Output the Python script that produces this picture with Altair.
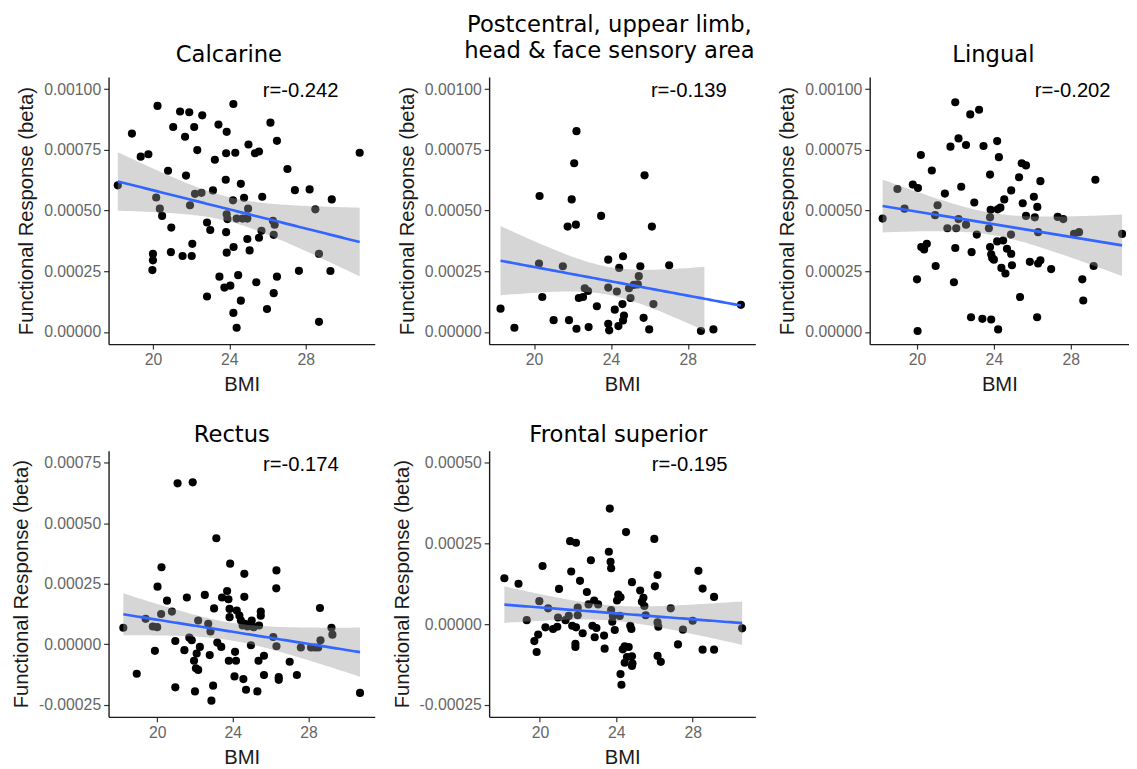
import altair as alt
import numpy as np
import pandas as pd

# ---------------- data ----------------
calcarine_bmi = [18.16, 18.9, 19.36, 19.76, 20.24, 20.0, 20.0, 19.97, 20.17, 20.36, 20.48, 20.79, 20.96, 20.94, 21.06,
                 21.42, 21.9, 21.68, 21.73, 21.94, 21.55, 22.03, 22.06, 22.16, 22.32, 22.2, 22.54, 22.58, 22.83, 23.0,
                 22.83, 23.14, 23.24, 23.43, 23.48, 23.74, 23.86, 23.83, 23.81, 23.86, 23.9, 23.83, 23.86, 24.05, 24.21,
                 24.22, 24.21, 24.19, 24.31, 24.38, 24.38, 24.46, 24.6, 24.6, 24.77, 24.69, 24.94, 24.98, 25.0, 24.94,
                 25.06, 25.34, 25.55, 25.41, 25.55, 25.68, 25.72, 26.15, 25.97, 26.28, 26.32, 26.37, 26.32, 26.49, 26.49,
                 27.04, 27.43, 27.64, 28.2, 28.5, 28.69, 28.69, 29.36, 29.29, 30.82]
calcarine_beta = [0.000604, 0.000817, 0.000722, 0.000732, 0.000931, 0.000322, 0.000295, 0.000255, 0.000554, 0.000508,
                  0.000478, 0.000664, 0.000430, 0.000329, 0.000844, 0.000908, 0.000905, 0.000804, 0.000644, 0.000522,
                  0.000313, 0.000313, 0.000363, 0.000844, 0.000749, 0.000569, 0.000573, 0.000892, 0.000451, 0.000420,
                  0.000146, 0.000583, 0.000709, 0.000854, 0.000228, 0.000183, 0.000824, 0.000736, 0.000627, 0.000485,
                  0.000465, 0.000411, 0.000327, 0.000191, 0.0000786, 0.000350, 0.000939, 0.000542, 0.000738, 0.0000176,
                  0.000467, 0.000234, 0.000610, 0.000129, 0.000553, 0.000467, 0.000467, 0.000508, 0.000772, 0.000383,
                  0.000336, 0.000736, 0.000743, 0.000205, 0.000388, 0.000417, 0.000557, 0.000862, 0.0000949, 0.000458,
                  0.000400, 0.000442, 0.000160, 0.000228, 0.000787, 0.000671, 0.000584, 0.000252, 0.000587, 0.000505,
                  0.000322, 0.0000420, 0.000546, 0.000251, 0.000738]

postcentral_bmi = [18.26, 18.98, 20.29, 20.26, 20.43, 21.02, 21.5, 21.82, 21.75, 21.96, 22.09, 22.21, 22.18, 22.21,
                   22.33, 22.55, 22.64, 22.81, 22.84, 23.27, 23.49, 23.86, 23.86, 23.86, 23.91, 24.2, 24.31, 24.43,
                   24.39, 24.6, 24.63, 24.63, 24.68, 24.94, 25.02, 25.19, 25.4, 25.45, 25.53, 25.75, 25.7, 25.99,
                   26.13, 26.21, 27.03, 28.68, 29.33, 30.76]
postcentral_beta = [0.0000962, 0.0000176, 0.000560, 0.000282, 0.000144, 0.0000488, 0.000271, 0.0000488, 0.000434,
                    0.000546, 0.000695, 0.000827, 0.000442, 0.0000136, 0.000140, 0.000144, 0.000180, 0.000169,
                    0.0000203, 0.000106, 0.000478, 0.000298, 0.000183, 0.0000339, 0.0000068, 0.0000921, 0.000167,
                    0.000264, 0.0000244, 0.000115, 0.000312, 0.0000474, 0.0000678, 0.000180, 0.000140, 0.000194,
                    0.000196, 0.000230, 0.000271, 0.000645, 0.0000583, 0.0000108, 0.000434, 0.000115, 0.000275,
                    0.0000041, 0.0000108, 0.000112]

lingual_bmi = [18.21, 18.98, 19.35, 19.78, 20.05, 20.2, 20.0, 20.03, 20.22, 20.37, 20.51, 20.77, 20.94, 21.07, 20.97,
               21.45, 21.58, 21.74, 21.92, 21.99, 21.99, 22.04, 22.16, 22.16, 22.3, 22.55, 22.55, 22.77, 22.81, 22.84,
               22.98, 23.11, 23.23, 23.4, 23.46, 23.74, 23.8, 23.8, 23.83, 23.8, 23.86, 23.86, 23.91, 24.0, 24.17,
               24.26, 24.17, 24.22, 24.2, 24.34, 24.39, 24.48, 24.54, 24.6, 24.68, 24.9, 24.89, 24.9, 24.94, 25.31,
               25.36, 25.45, 25.67, 25.5, 25.67, 25.87, 26.08, 26.13, 26.26, 26.3, 26.3, 26.42, 26.25, 26.42, 26.98,
               27.32, 27.61, 28.17, 28.43, 28.6, 28.65, 29.19, 29.28, 30.67]
lingual_beta = [0.000467, 0.000589, 0.000508, 0.000607, 0.000593, 0.000729, 0.000217, 0.0000041, 0.000350, 0.000340,
                0.000363, 0.000665, 0.000481, 0.000522, 0.000272, 0.000570, 0.000427, 0.000763, 0.000205, 0.000346,
                0.000946, 0.000427, 0.000797, 0.000465, 0.000598, 0.000442, 0.000770, 0.000896, 0.0000610, 0.000329,
                0.000533, 0.000401, 0.000915, 0.0000542, 0.000766, 0.000427, 0.000648, 0.000350, 0.000503, 0.000472,
                0.000320, 0.0000515, 0.000305, 0.000298, 0.000786, 0.000720, 0.000373, 0.0000108, 0.000505, 0.000512,
                0.000264, 0.000377, 0.000546, 0.000241, 0.000343, 0.000322, 0.000401, 0.000583, 0.000275, 0.000637,
                0.000144, 0.000695, 0.000686, 0.000530, 0.000478, 0.000289, 0.000557, 0.000472, 0.000515, 0.000411,
                0.000282, 0.000295, 0.0000610, 0.000621, 0.000259, 0.000474, 0.000465, 0.000404, 0.000411, 0.000217,
                0.000130, 0.000272, 0.000627, 0.000404]

rectus_bmi = [18.21, 18.92, 19.39, 19.77, 20.0, 19.88, 20.02, 20.23, 20.21, 20.52, 20.78, 20.96, 20.96, 21.08, 21.44,
              21.57, 21.7, 21.88, 21.83, 21.95, 22.0, 22.05, 22.17, 22.09, 22.17, 22.26, 22.52, 22.7, 22.78, 22.82,
              22.87, 22.96, 23.01, 23.18, 23.39, 23.13, 23.43, 23.7, 23.77, 23.83, 23.86, 23.83, 23.79, 24.09, 24.12,
              24.17, 24.21, 24.35, 24.43, 24.56, 24.61, 24.61, 24.7, 24.52, 24.64, 24.78, 24.96, 25.0, 25.1, 25.3,
              25.39, 25.36, 25.48, 25.48, 25.65, 25.65, 26.14, 26.31, 26.3, 26.31, 26.43, 26.43, 27.01, 27.39, 27.6,
              28.14, 28.35, 28.52, 28.64, 28.61, 29.22, 29.27, 30.73]
rectus_beta = [0.0000680, -0.000122, 0.000105, 0.0000735, 0.0000707, -0.0000272, 0.000238, 0.000318, 0.000125,
               0.000180, 0.000135, 0.0000136, -0.000178, 0.000665, -0.0000245, 0.000193, 0.0000272, 0.000669,
               0.0000163, -0.0000680, -0.000195, -0.0000993, -0.000106, -0.0000381, 0.0000980, -0.0000109, 0.000204,
               0.0000844, -0.0000449, 0.0000531, -0.000233, -0.000171, 0.000148, 0.0000068, -0.0000109, 0.000438,
               0.000193, 0.000220, 0.000186, 0.000112, 0.000333, 0.000146, -0.0000680, -0.000133, -0.0000313,
               -0.0000680, 0.000139, 0.000118, 0.0000980, -0.000144, 0.000291, 0.000196, -0.000188, 0.0000776,
               0.0000844, 0.0000735, -0.0000041, 0.0000980, 0.0000707, -0.000195, 0.0000776, -0.0000680, 0.000135,
               0.000118, -0.0000476, -0.000127, 0.0000299, 0.000305, 0.000231, -0.0000082, -0.000136, -0.000147,
               -0.0000721, -0.000127, -0.0000136, -0.0000136, -0.0000136, -0.0000136, 0.0000163, 0.000150,
               0.0000680, 0.0000395, -0.000201]

frontal_bmi = [18.14, 18.88, 19.31, 19.71, 19.91, 19.83, 19.97, 20.14, 20.43, 20.29, 20.69, 20.91, 20.95, 21.0, 21.34,
               21.51, 21.58, 21.89, 21.64, 21.69, 21.86, 21.86, 21.89, 21.98, 21.98, 22.1, 22.24, 22.46, 22.55, 22.67,
               22.75, 22.87, 22.84, 22.96, 23.05, 23.36, 23.39, 23.61, 23.7, 23.73, 23.66, 23.73, 23.79, 23.82, 23.92,
               24.04, 24.1, 24.22, 24.18, 24.22, 24.27, 24.34, 24.44, 24.51, 24.44, 24.56, 24.65, 24.73, 24.79, 24.82,
               24.82, 24.82, 24.85, 25.25, 25.34, 25.42, 25.47, 25.54, 25.99, 26.02, 26.16, 26.16, 26.2, 26.16, 26.33,
               26.85, 27.23, 27.49, 28.0, 28.3, 28.52, 28.52, 29.12, 29.12, 30.59]
frontal_beta = [0.000142, 0.000125, 0.0000122, -0.0000528, -0.0000325, -0.0000864, 0.0000711, 0.000180, 0.0000488,
                -0.0000102, -0.0000152, -0.0000081, 0.0000203, 0.000109, 0.0000122, 0.0000254, 0.000257, 0.000252,
                0.000163, -0.0000051, -0.0000610, -0.0000711, -0.0000102, 0.0000508, 0.0000274, 0.000134, -0.0000285,
                0.0000996, 0.0000610, 0.000198, -0.0000051, -0.0000407, 0.0000732, -0.0000122, 0.0000610, -0.0000356,
                -0.0000762, 0.000224, 0.000193, 0.000173, 0.000358, 0.0000437, 0.0000071, 0.0000254, -0.0000183,
                0.0000732, 0.0000915, 0.0000833, 0.0000254, -0.000155, -0.000188, -0.0000783, -0.0000691, 0.000285,
                -0.000120, -0.000102, -0.0000711, -0.0000051, -0.0000152, 0.000130, -0.0000996, -0.000130, -0.000122,
                0.000104, 0.0000691, 0.0000813, 0.0000559, 0.0000274, 0.000264, 0.000117, 0.000152, 0.0000051,
                -0.0000081, -0.0000986, -0.000117, 0.0000488, -0.0000630, -0.0000173, 0.0000102, 0.000165, 0.000110,
                -0.0000793, 0.0000843, -0.0000793, -0.0000132]

titles = [["Calcarine"], ["Postcentral, uppear limb,", "head & face sensory area"], ["Lingual"],
          ["Rectus"], ["Frontal superior"]]
r_labels = ["r=-0.242", "r=-0.139", "r=-0.202", "r=-0.174", "r=-0.195"]
r_label_x = [27.73, 28.05, 28.1, 27.6, 27.84]
r_label_y = [0.00099, 0.00099, 0.00099, 0.00074, 0.000494]
y_ticks_top = [0.0, 0.00025, 0.0005, 0.00075, 0.001]
y_ticks_rectus = [-0.00025, 0.0, 0.00025, 0.0005, 0.00075]
y_ticks_frontal = [-0.00025, 0.0, 0.00025, 0.0005]
x_ticks = [20, 24, 28]

LABEL_FONT = "Liberation Sans"
TITLE_FONT = "DejaVu Sans"


def t_quantile(df):
    z = 1.959964
    return z + (z ** 3 + z) / (4 * df) + (5 * z ** 5 + 16 * z ** 3 + 3 * z) / (96 * df ** 2)


def fit_table(bmi, beta):
    x = np.asarray(bmi, float)
    y = np.asarray(beta, float)
    n = len(x)
    b1, b0 = np.polyfit(x, y, 1)
    xs = np.linspace(x.min(), x.max(), 80)
    yhat = b0 + b1 * xs
    resid = y - (b0 + b1 * x)
    s = np.sqrt(np.sum(resid ** 2) / (n - 2))
    sxx = np.sum((x - x.mean()) ** 2)
    se = s * np.sqrt(1.0 / n + (xs - x.mean()) ** 2 / sxx)
    t = t_quantile(n - 2)
    return pd.DataFrame({"BMI": xs, "beta": yhat, "lo": yhat - t * se, "hi": yhat + t * se})


def panel(i, bmi, beta, yticks, xdomain, width, height, title_offset, title_dx):
    lim = [yticks[0], yticks[-1]]          # y limits as set in the original plot
    pad = 0.05 * (lim[1] - lim[0])         # default 5% expansion
    ydomain = [lim[0] - pad, lim[1] + pad]
    pts = pd.DataFrame({"BMI": bmi, "beta": beta})
    fit = fit_table(bmi, beta)
    # values outside the limits are dropped (out-of-bounds -> NA)
    band_df = fit[(fit["lo"] >= lim[0]) & (fit["hi"] <= lim[1])]
    line_df = fit[(fit["beta"] >= lim[0]) & (fit["beta"] <= lim[1])]
    xs = alt.Scale(domain=xdomain, nice=False, zero=False)
    ys = alt.Scale(domain=ydomain, nice=False, zero=False)
    xaxis = alt.Axis(values=x_ticks, title="BMI", format="d")
    yaxis = alt.Axis(values=yticks, title="Functional Response (beta)",
                     labelExpr="replace(format(datum.value, '.5f'), '\u2212', '-')")
    points = alt.Chart(pts).mark_circle(size=68, color="black", opacity=1).encode(
        x=alt.X("BMI:Q", scale=xs, axis=xaxis),
        y=alt.Y("beta:Q", scale=ys, axis=yaxis))
    band = alt.Chart(band_df).mark_area(color="#999999", opacity=0.4).encode(
        x=alt.X("BMI:Q", scale=xs, axis=xaxis),
        y=alt.Y("lo:Q", scale=ys, axis=yaxis),
        y2="hi:Q")
    line = alt.Chart(line_df).mark_line(color="#3366FF", strokeWidth=2.7).encode(
        x=alt.X("BMI:Q", scale=xs, axis=xaxis),
        y=alt.Y("beta:Q", scale=ys, axis=yaxis))
    lab = pd.DataFrame({"BMI": [r_label_x[i]], "beta": [r_label_y[i]], "txt": [r_labels[i]]})
    text = alt.Chart(lab).mark_text(font=LABEL_FONT, fontSize=20.5, color="black").encode(
        x=alt.X("BMI:Q", scale=xs, axis=xaxis),
        y=alt.Y("beta:Q", scale=ys, axis=yaxis),
        text="txt:N")
    t = titles[i]
    return alt.layer(points, band, line, text).properties(
        width=width, height=height,
        title=alt.TitleParams(text=t if len(t) > 1 else t[0], font=TITLE_FONT, fontSize=23,
                              fontWeight="normal", color="black", anchor="middle",
                              offset=title_offset, dx=title_dx, lineHeight=27))


p1 = panel(0, calcarine_bmi, calcarine_beta, y_ticks_top, [17.677, 31.61], 270, 271, 10, -13)
p2 = panel(1, postcentral_bmi, postcentral_beta, y_ticks_top, [17.667, 31.51], 270, 271, 14, -13)
p3 = panel(2, lingual_bmi, lingual_beta, y_ticks_top, [17.538, 31.03], 263, 271, 10, -6)
p4 = panel(3, rectus_bmi, rectus_beta, y_ticks_rectus, [17.429, 31.51], 270, 270, 4, -10)
p5 = panel(4, frontal_bmi, frontal_beta, y_ticks_frontal, [17.342, 31.28], 270, 270, 4, -4)

chart = alt.concat(
    p1, p2, p3, p4, p5, columns=3,
    bounds="flush",
    align={"row": "each", "column": "none"},
    spacing={"row": 108, "column": 116}
).properties(
    padding={"left": 3, "top": 0.5, "right": 0, "bottom": 0},
    background="white"
).configure_view(stroke=None).configure_axis(
    grid=False,
    domainColor="#1a1a1a", domainWidth=1.4,
    tickColor="#333333", tickSize=5, tickWidth=1.2,
    labelFont=LABEL_FONT, labelFontSize=16, labelColor="#666666", labelPadding=3,
    titleFont=LABEL_FONT, titleFontSize=20.5, titleColor="#1a1a1a", titleFontWeight="normal",
    titlePadding=7
)

chart.save("out.html", embed_options={"renderer": "svg", "actions": False})
